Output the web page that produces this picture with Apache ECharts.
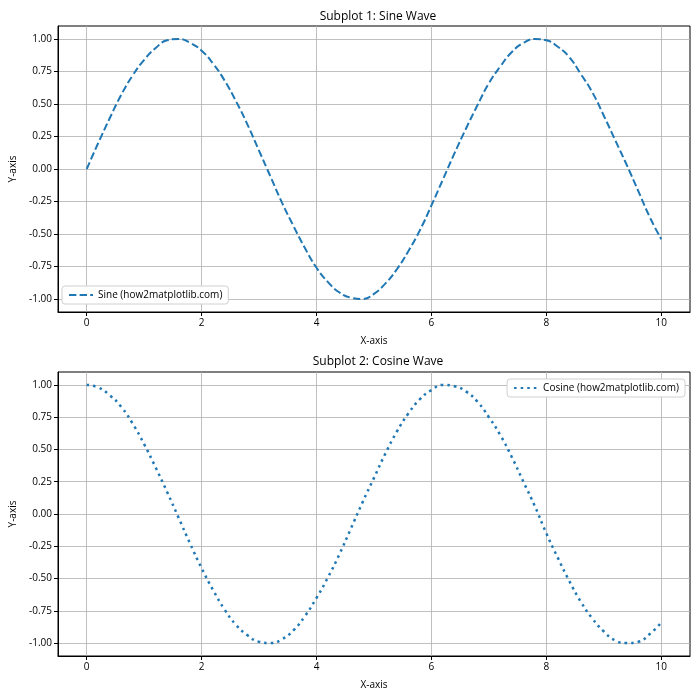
<!DOCTYPE html>
<html>
<head>
<meta charset="utf-8">
<script src="https://cdn.jsdelivr.net/npm/echarts@6/dist/echarts.min.js"></script>
<style>
  html, body { margin: 0; padding: 0; background: #fff; }
  #main { width: 700px; height: 700px; }
</style>
</head>
<body>
<div id="main"></div>
<script>
// x positions (0 .. 10, step 0.2)
var xValues = [0, 0.2, 0.4, 0.6, 0.8, 1, 1.2, 1.4, 1.6, 1.8, 2, 2.2, 2.4, 2.6, 2.8, 3, 3.2, 3.4, 3.6, 3.8,
    4, 4.2, 4.4, 4.6, 4.8, 5, 5.2, 5.4, 5.6, 5.8, 6, 6.2, 6.4, 6.6, 6.8, 7, 7.2, 7.4, 7.6, 7.8,
    8, 8.2, 8.4, 8.6, 8.8, 9, 9.2, 9.4, 9.6, 9.8, 10];

var sineValues = [0.00, 0.20, 0.39, 0.57, 0.72, 0.84, 0.93, 0.99, 1.00, 0.97, 0.91, 0.81, 0.68, 0.52, 0.34, 0.14,
    -0.06, -0.26, -0.44, -0.61, -0.76, -0.87, -0.95, -0.99, -1.00, -0.96, -0.88, -0.77, -0.63, -0.47, -0.28,
    -0.08, 0.12, 0.31, 0.49, 0.66, 0.79, 0.90, 0.97, 1.00, 0.99, 0.94, 0.86, 0.73, 0.59, 0.41, 0.22, 0.03,
    -0.17, -0.37, -0.54];

var cosineValues = [1.00, 0.98, 0.92, 0.83, 0.70, 0.54, 0.36, 0.17, -0.03, -0.23, -0.42, -0.59, -0.74, -0.86,
    -0.94, -0.99, -1.00, -0.97, -0.90, -0.79, -0.65, -0.49, -0.31, -0.11, 0.09, 0.28, 0.47, 0.64, 0.78, 0.89,
    0.96, 1.00, 0.99, 0.95, 0.87, 0.75, 0.61, 0.44, 0.25, 0.06, -0.15, -0.34, -0.52, -0.68, -0.81, -0.91,
    -0.98, -1.00, -0.99, -0.93, -0.84];

var xTicks = [0, 2, 4, 6, 8, 10];
var yTicks = [-1, -0.75, -0.5, -0.25, 0, 0.25, 0.5, 0.75, 1];

var titles = ['Subplot 1: Sine Wave', 'Subplot 2: Cosine Wave'];
var seriesNames = ['Sine (how2matplotlib.com)', 'Cosine (how2matplotlib.com)'];

var fontName = 'Open Sans';
var lineColor = '#1f77b4';

function pairs(ys) {
    return xValues.map(function (x, i) { return [x, ys[i]]; });
}

function makeXAxis(idx) {
    return {
        type: 'value',
        gridIndex: idx,
        min: -0.5,
        max: 10.5,
        name: 'X-axis',
        nameLocation: 'middle',
        nameGap: 24,
        nameTextStyle: { fontFamily: fontName, fontSize: 10, color: '#000' },
        axisLine: { show: true, onZero: false, lineStyle: { color: '#000', width: 1 } },
        axisTick: { show: true, length: 4, customValues: xTicks, lineStyle: { color: '#000' } },
        axisLabel: {
            customValues: xTicks, margin: 6,
            fontFamily: fontName, fontSize: 10, color: '#000'
        },
        splitLine: { show: true, lineStyle: { color: '#b0b0b0', width: 0.8 } }
    };
}

function makeYAxis(idx) {
    return {
        type: 'value',
        gridIndex: idx,
        min: -1.1,
        max: 1.1,
        name: 'Y-axis',
        nameLocation: 'middle',
        nameGap: 40,
        nameTextStyle: { fontFamily: fontName, fontSize: 10, color: '#000' },
        axisLine: { show: true, onZero: false, lineStyle: { color: '#000', width: 1 } },
        axisTick: { show: true, length: 4, customValues: yTicks, lineStyle: { color: '#000' } },
        axisLabel: {
            customValues: yTicks, margin: 6,
            fontFamily: fontName, fontSize: 10, color: '#000',
            formatter: function (v) { return v.toFixed(2); }
        },
        splitLine: { show: true, lineStyle: { color: '#b0b0b0', width: 0.8 } }
    };
}

function makeLegend(name, pos) {
    var legend = {
        data: [name],
        itemWidth: 24, itemHeight: 10, itemGap: 5,
        padding: [4, 6], backgroundColor: '#fff', borderColor: '#d0d0d0', borderWidth: 1, borderRadius: 3,
        itemStyle: { opacity: 0 },
        textStyle: { fontFamily: fontName, fontSize: 10, color: '#000' }
    };
    return Object.assign(legend, pos);
}

var myChart = echarts.init(document.getElementById('main'), null, { renderer: 'canvas' });

var option = {
    animation: false,
    backgroundColor: '#fff',
    title: [
        { text: titles[0], left: 373, top: 6, textAlign: 'center',
          textStyle: { fontFamily: fontName, fontSize: 12, fontWeight: 'normal', color: '#000' } },
        { text: titles[1], left: 373, top: 351, textAlign: 'center',
          textStyle: { fontFamily: fontName, fontSize: 12, fontWeight: 'normal', color: '#000' } }
    ],
    grid: [
        { left: 56, right: 10, top: 26, height: 286, show: true, borderColor: '#000', borderWidth: 1, backgroundColor: 'transparent' },
        { left: 56, right: 10, top: 372, height: 284, show: true, borderColor: '#000', borderWidth: 1, backgroundColor: 'transparent' }
    ],
    legend: [
        makeLegend(seriesNames[0], { left: 62, top: 286 }),
        makeLegend(seriesNames[1], { right: 15, top: 379 })
    ],
    xAxis: [makeXAxis(0), makeXAxis(1)],
    yAxis: [makeYAxis(0), makeYAxis(1)],
    series: [
        {
            name: seriesNames[0],
            type: 'line',
            xAxisIndex: 0, yAxisIndex: 0,
            data: pairs(sineValues),
            smooth: true,
            showSymbol: false,
            symbol: 'none',
            itemStyle: { color: lineColor },
            lineStyle: { color: lineColor, width: 2, type: [7.4, 3.2] }
        },
        {
            name: seriesNames[1],
            type: 'line',
            xAxisIndex: 1, yAxisIndex: 1,
            data: pairs(cosineValues),
            smooth: true,
            showSymbol: false,
            symbol: 'none',
            itemStyle: { color: lineColor },
            lineStyle: { color: lineColor, width: 2.5, type: [2.5, 4.1] }
        }
    ]
};

if (option && typeof option === 'object') {
    myChart.setOption(option);
}

window.addEventListener('resize', myChart.resize);
</script>
</body>
</html>
